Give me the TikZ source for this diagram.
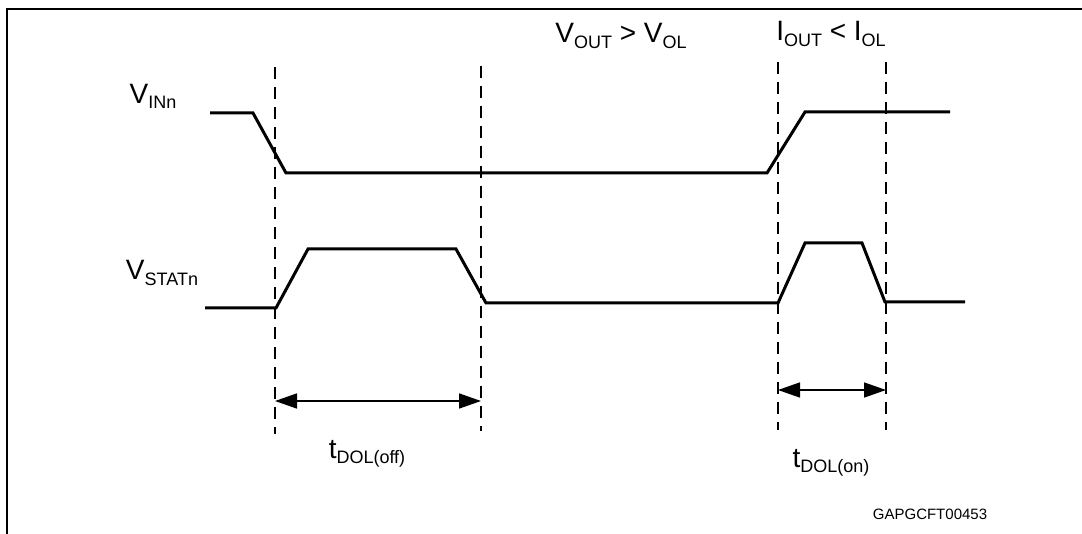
\documentclass[tikz,border=0pt]{standalone}
\usepackage{fontspec}
\setmainfont{Liberation Sans}
\usetikzlibrary{arrows.meta,positioning,calc}
\tikzset{
frame/.style={line width=2pt},
signal/.style={line width=3pt, line join=miter},
marker line/.style={line width=1.4pt, dash pattern=on 12pt off 8pt},
dim arrow/.style={{Triangle[length=22pt,width=15pt]}-{Triangle[length=22pt,width=15pt]}, line width=1.6pt},
}
\newcommand{\lo}[1]{\raisebox{-0.35ex}{\fontsize{18}{18}\selectfont #1}}
\tikzstyle{every node}=[font=\fontsize{28}{32}\selectfont, inner sep=0pt]

\begin{document}
\begin{tikzpicture}[x=1pt, y=-1pt]
        \useasboundingbox (0,0) rectangle (1082,534);
        \draw[frame] (1082,9) -- (7,9) -- (7,534);

        % signal names
        \node (vin) at (153,96) {V\lo{INn}};
        \node (vstat) at (162,273) {V\lo{STATn}};

        % conditions
        \node (vout) at (621,36) {V\lo{OUT} > V\lo{OL}};
        \node (iout) at (831,34) {I\lo{OUT} < I\lo{OL}};

        % waveforms
        \draw[signal]
        (210,113) -- (253,113) -- (286,173) -- (767,173)
        -- (805,112) -- (950,112);
        \draw[signal]
        (205,308) -- (276,308) -- (308,249) -- (456,249)
        -- (486,303) -- (778,303) -- (805,243) -- (862,243)
        -- (885,302) -- (965,302);

        % timing markers
        \foreach \n/\x/\t/\b in {a/275/67/434, b/481/66/431, c/778/62/430, d/886/62/430}{
            \coordinate (\n top) at (\x,\t);
            \coordinate (\n bot) at (\x,\b);
            \draw[marker line] (\n top) -- (\n bot);
        }

        \coordinate (offL) at (275,401);
        \coordinate (offR) at (481,401);
        \draw[dim arrow] (offL) -- (offR);
        \coordinate (onL) at (778,390);
        \coordinate (onR) at (886,390);
        \draw[dim arrow] (onL) -- (onR);

        \node (toff) at (367,454) {t\lo{DOL(off)}};
        \node (ton) at (831,463) {t\lo{DOL(on)}};

        \node[font=\fontsize{15}{17}\selectfont] (code) at (930,514) {GAPGCFT00453};
    \end{tikzpicture}
\end{document}
